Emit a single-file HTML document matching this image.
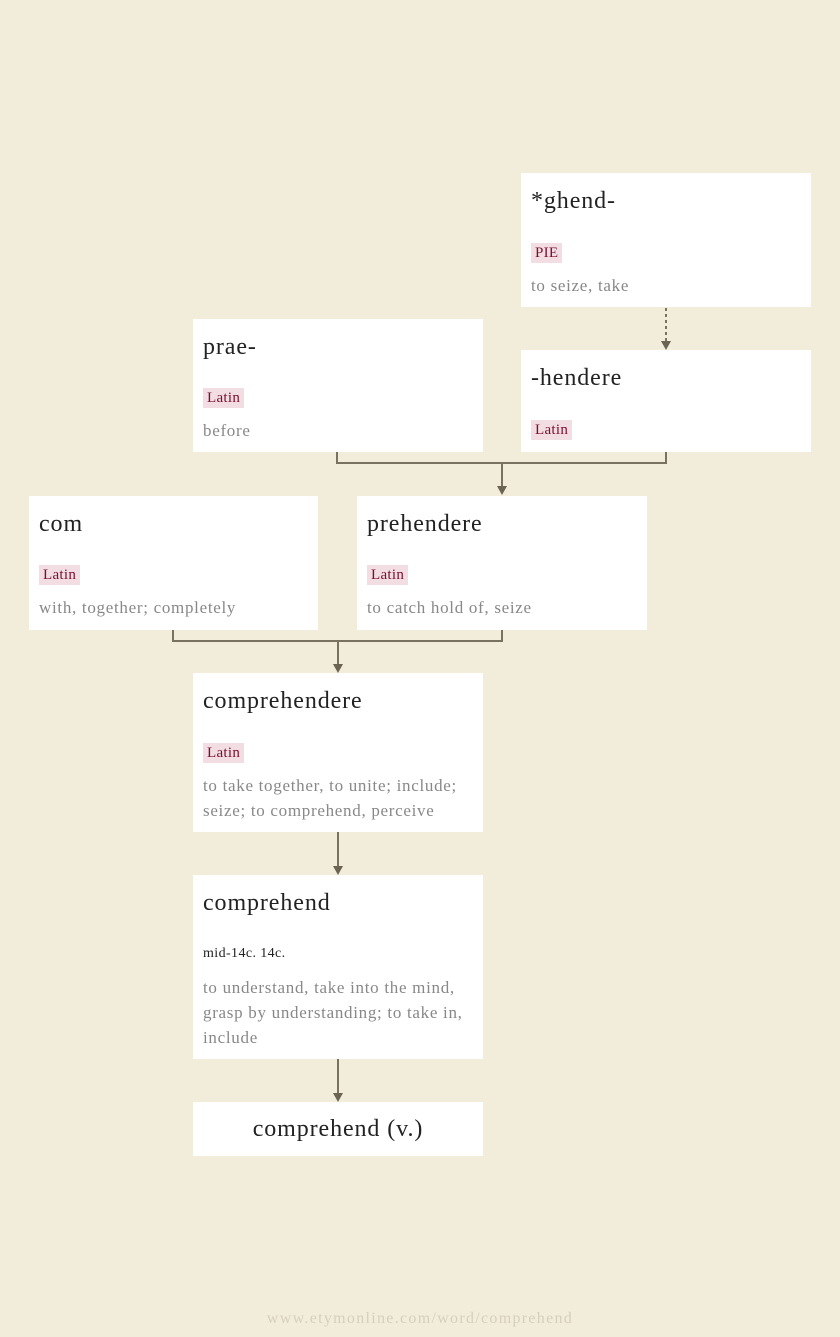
<!DOCTYPE html>
<html><head><style>
body{margin:0;width:840px;height:1337px;background:#f2ecdb;position:relative;font-family:"Liberation Serif",serif;overflow:hidden}
.b{position:absolute;background:#fff;box-sizing:border-box}
.t{position:absolute;left:10px;font-size:24px;letter-spacing:0.9px;color:#222;line-height:28px;white-space:nowrap}
.g{position:absolute;left:10px;background:#f2dde2;color:#7a1030;font-size:15px;line-height:20px;padding:0 4px;letter-spacing:0.3px}
.d{position:absolute;left:10px;font-size:17px;letter-spacing:0.7px;color:#888;line-height:25px;white-space:nowrap}
.m{position:absolute;left:10px;font-size:14px;color:#222;letter-spacing:0.4px}
svg{position:absolute;left:0;top:0}
</style></head><body>
<svg width="840" height="1337">
<g stroke="#7a7260" stroke-width="2" fill="none">
<line x1="666" y1="308" x2="666" y2="342" stroke-dasharray="3,3"/>
<polyline points="337,452 337,463 666,463 666,452"/>
<line x1="502" y1="463" x2="502" y2="487"/>
<polyline points="173,630 173,641 502,641 502,630"/>
<line x1="338" y1="641" x2="338" y2="665"/>
<line x1="338" y1="832" x2="338" y2="867"/>
<line x1="338" y1="1059" x2="338" y2="1094"/>
</g>
<g fill="#6b6452">
<polygon points="661,341 671,341 666,350"/>
<polygon points="497,486 507,486 502,495"/>
<polygon points="333,664 343,664 338,673"/>
<polygon points="333,866 343,866 338,875"/>
<polygon points="333,1093 343,1093 338,1102"/>
</g>
</svg>
<div class="b" style="left:521px;top:173px;width:290px;height:134px"><div class="t" style="top:14px">*ghend-</div><div class="g" style="top:70px">PIE</div><div class="d" style="top:100px">to seize, take</div></div>
<div class="b" style="left:193px;top:319px;width:290px;height:133px"><div class="t" style="top:14px">prae-</div><div class="g" style="top:69px">Latin</div><div class="d" style="top:99px">before</div></div>
<div class="b" style="left:521px;top:350px;width:290px;height:102px"><div class="t" style="top:14px">-hendere</div><div class="g" style="top:70px">Latin</div></div>
<div class="b" style="left:29px;top:496px;width:289px;height:134px"><div class="t" style="top:14px">com</div><div class="g" style="top:69px">Latin</div><div class="d" style="top:99px">with, together; completely</div></div>
<div class="b" style="left:357px;top:496px;width:290px;height:134px"><div class="t" style="top:14px">prehendere</div><div class="g" style="top:69px">Latin</div><div class="d" style="top:99px">to catch hold of, seize</div></div>
<div class="b" style="left:193px;top:673px;width:290px;height:159px"><div class="t" style="top:14px">comprehendere</div><div class="g" style="top:70px">Latin</div><div class="d" style="top:100px">to take together, to unite; include;<br>seize; to comprehend, perceive</div></div>
<div class="b" style="left:193px;top:875px;width:290px;height:184px"><div class="t" style="top:14px">comprehend</div><div class="m" style="top:71px">mid-14c. 14c.</div><div class="d" style="top:100px">to understand, take into the mind,<br>grasp by understanding; to take in,<br>include</div></div>
<div class="b" style="left:193px;top:1102px;width:290px;height:54px"><div class="t" style="top:13px;left:0;width:290px;text-align:center">comprehend (v.)</div></div>
<div style="position:absolute;top:1310px;left:0;width:840px;text-align:center;font-size:16px;letter-spacing:1.3px;color:#d6cfbd">www.etymonline.com/word/comprehend</div>
</body></html>
